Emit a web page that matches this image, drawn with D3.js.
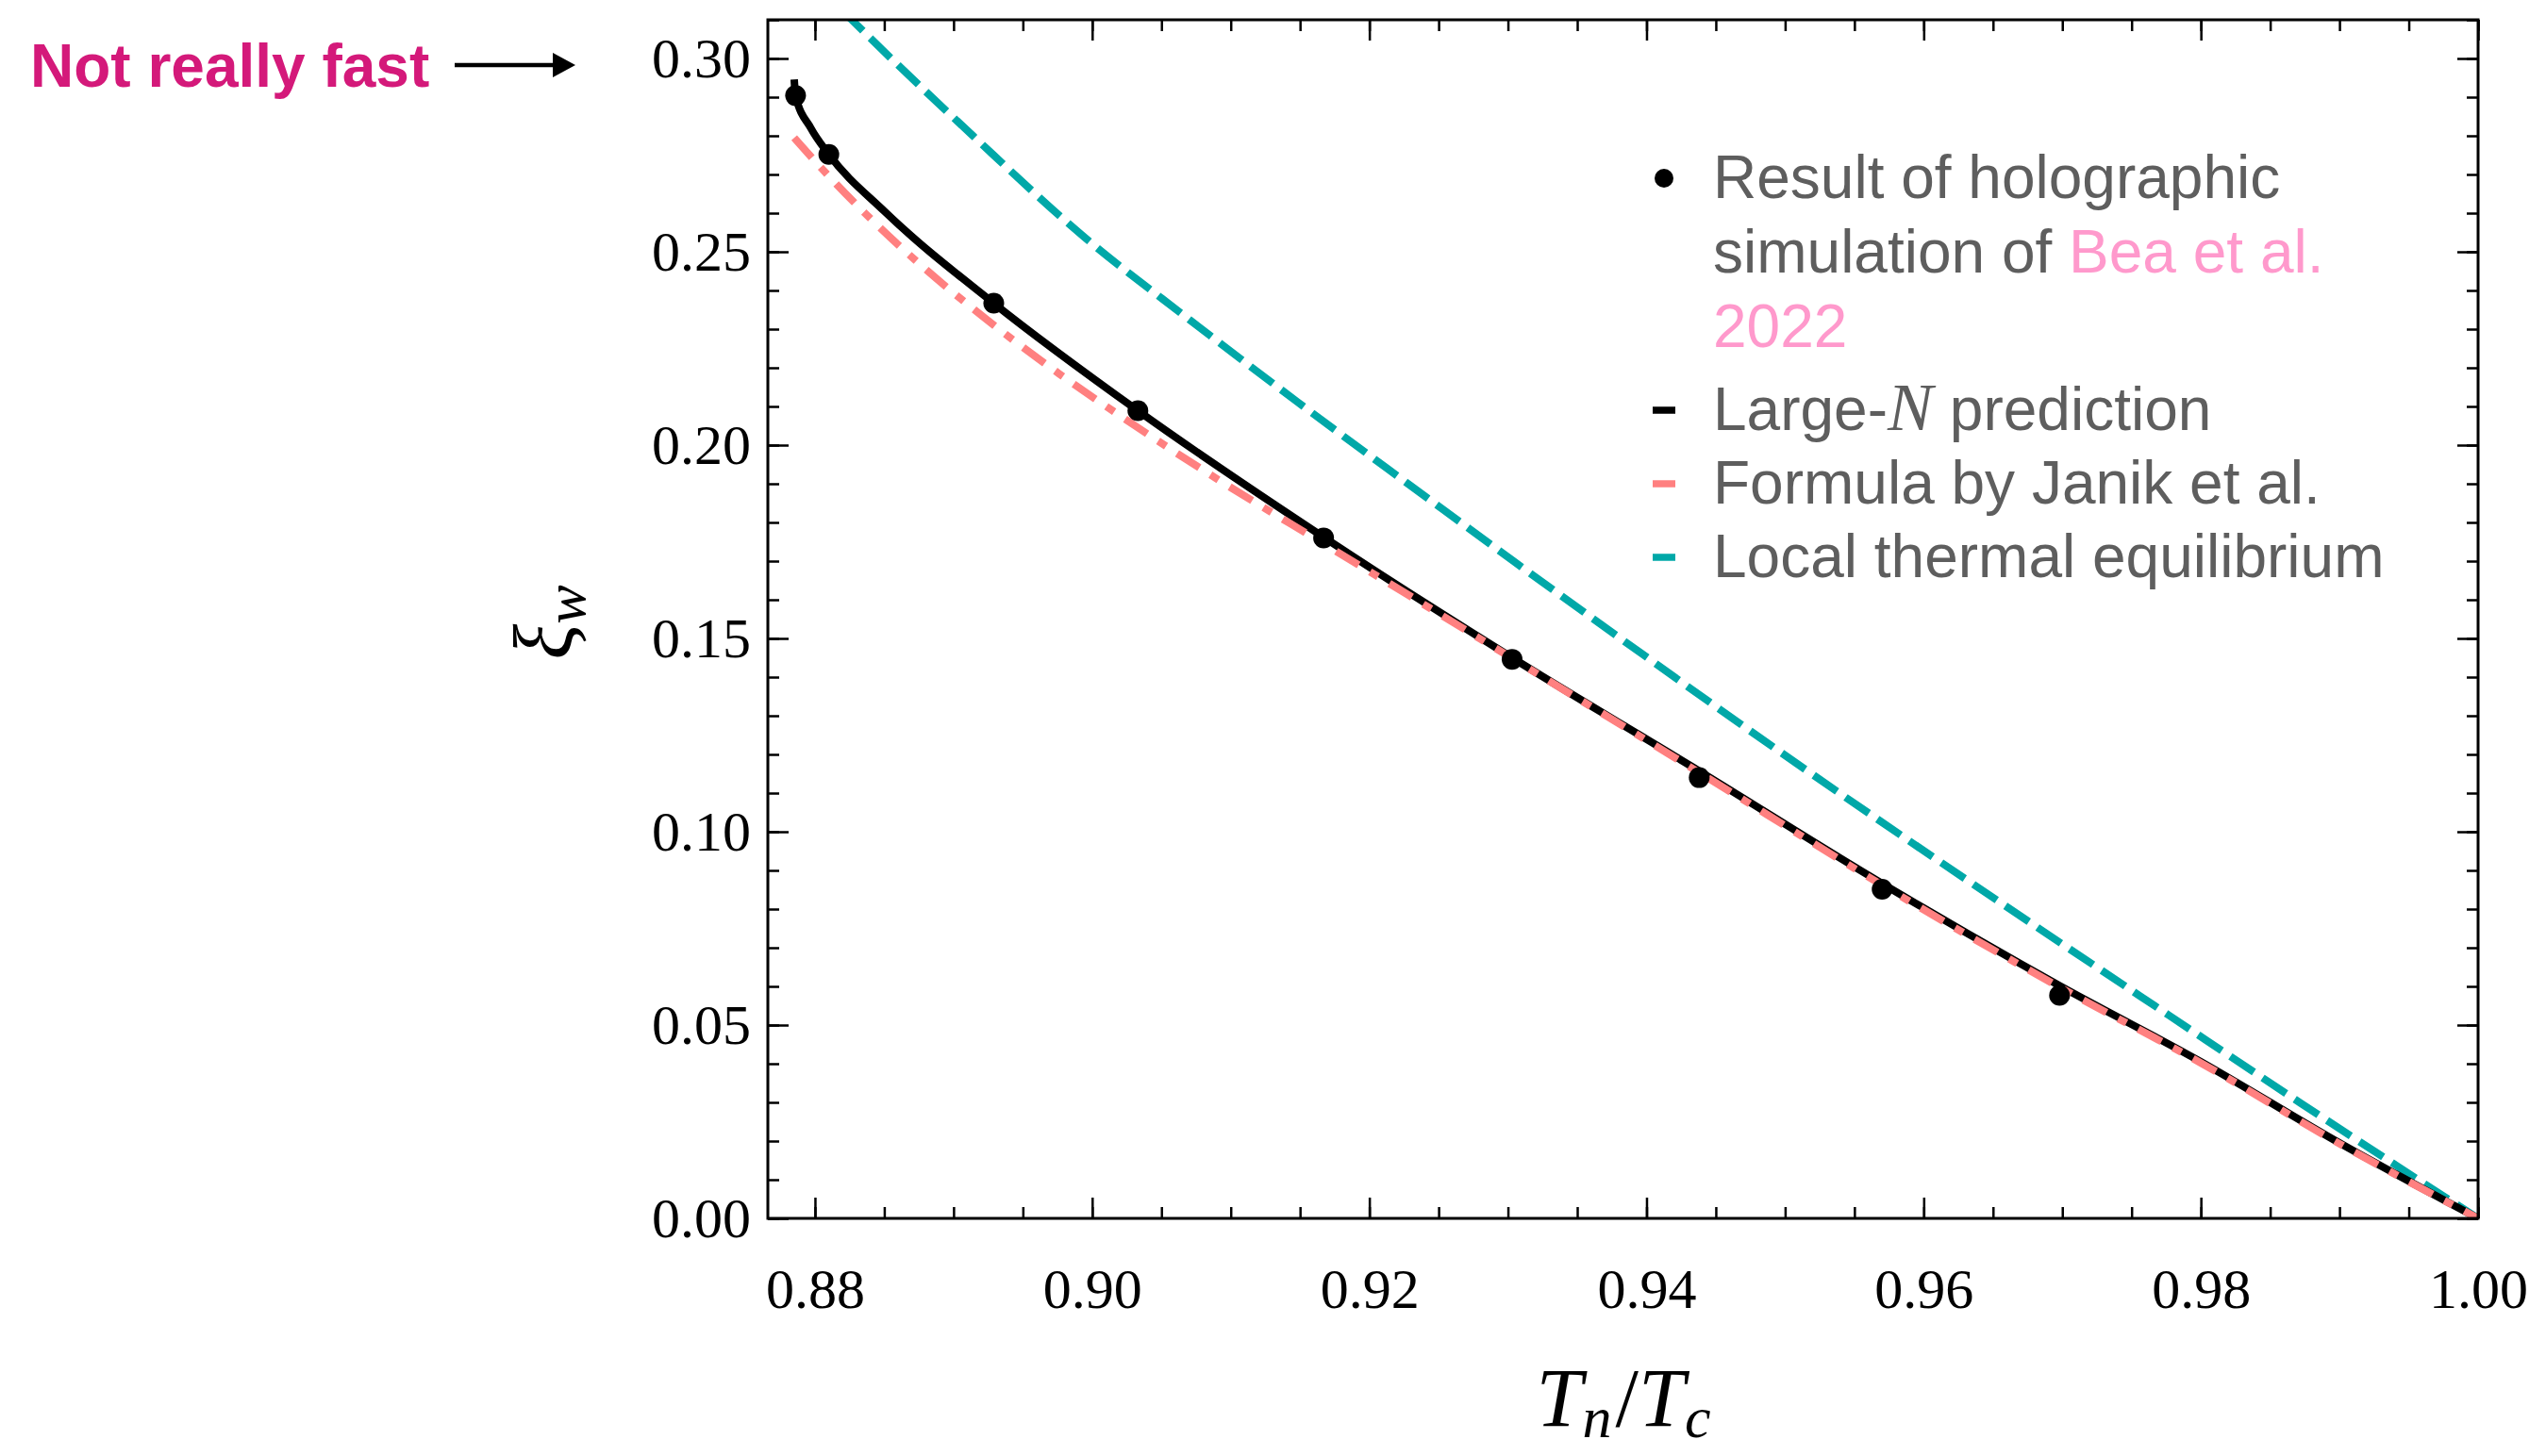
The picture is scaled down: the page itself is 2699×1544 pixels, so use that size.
<!DOCTYPE html>
<html>
<head>
<meta charset="utf-8">
<script src="https://cdn.jsdelivr.net/npm/d3@7"></script>
<style>
  html, body { margin: 0; padding: 0; background: #fff; }
  svg { display: block; }
</style>
</head>
<body>
<script>
// holographic simulation points (Bea et al. 2022)
const simT = [0.8786, 0.8810, 0.8929, 0.9033, 0.9167, 0.9303, 0.9438, 0.9570, 0.9698];
const simXi = [0.2904, 0.2752, 0.2367, 0.2089, 0.1760, 0.1446, 0.1140, 0.0851, 0.0577];

// large-N prediction
const largeNT = [0.8785, 0.8786, 0.8797, 0.8810, 0.8850, 0.8929, 0.9033, 0.9167, 0.9303,
                 0.9438, 0.9570, 0.9698, 0.9800, 0.9900, 1.0000];
const largeNXi = [0.2946, 0.2904, 0.2820, 0.2752, 0.2605, 0.2367, 0.2089, 0.1762, 0.1450,
                  0.1157, 0.0866, 0.0602, 0.0405, 0.0195, 0.0000];

// formula by Janik et al.
const janikT = [0.8785, 0.8805, 0.8836, 0.8875, 0.8922, 0.8976, 0.9031, 0.9089, 0.9167, 0.9226,
                0.9300, 0.9438, 0.9570, 0.9698, 0.9800, 0.9900, 1.0000];
const janikXi = [0.2795, 0.2715, 0.2600, 0.2470, 0.2330, 0.2185, 0.2050, 0.1915, 0.1745, 0.1617,
                 0.1455, 0.1153, 0.0862, 0.0598, 0.0402, 0.0193, 0.0000];

// local thermal equilibrium
const lteT = [0.8820, 0.8855, 0.8914, 0.8992, 0.9070, 0.9148, 0.9226, 0.9304, 0.9396, 0.9491,
              0.9586, 0.9681, 0.9777, 0.9872, 1.0000];
const lteXi = [0.3123, 0.3000, 0.2800, 0.2545, 0.2325, 0.2112, 0.1905, 0.1700, 0.1462, 0.1220,
               0.0985, 0.0755, 0.0525, 0.0298, 0.0000];

const xTicks = [0.88, 0.90, 0.92, 0.94, 0.96, 0.98, 1.00];
const yTicks = [0.00, 0.05, 0.10, 0.15, 0.20, 0.25, 0.30];

const width = 2699, height = 1544;
const plotLeft = 814, plotRight = 2627, plotTop = 21, plotBottom = 1292;

const serif = "'Liberation Serif', 'Times New Roman', serif";
const sans = "'Liberation Sans', Arial, Helvetica, sans-serif";

const svg = d3.select("body").append("svg")
    .attr("width", width)
    .attr("height", height);

const x = d3.scaleLinear().domain([0.8766, 1.0]).range([plotLeft, plotRight]);
const y = d3.scaleLinear().domain([0, 0.31]).range([plotBottom, plotTop]);

svg.append("defs").append("clipPath")
    .attr("id", "plotClip")
    .append("rect")
    .attr("x", plotLeft).attr("y", plotTop)
    .attr("width", plotRight - plotLeft).attr("height", plotBottom - plotTop);

// minor ticks
const xMinor = d3.range(0.880, 1.0001, 0.005).filter(v => v >= 0.8766);
const yMinor = d3.range(0, 0.3101, 0.01);

function styleAxis(g) {
    g.select(".domain").remove();
    g.selectAll(".tick line").attr("stroke", "#000").attr("stroke-width", 2.5);
}

// bottom / top
svg.append("g").attr("transform", `translate(0,${plotBottom})`)
    .call(d3.axisBottom(x).tickValues(xMinor).tickSize(-12).tickFormat(""))
    .call(styleAxis);
svg.append("g").attr("transform", `translate(0,${plotBottom})`)
    .call(d3.axisBottom(x).tickValues(xTicks).tickSize(-22).tickPadding(52).tickFormat(d3.format(".2f")))
    .call(styleAxis)
    .selectAll("text")
    .attr("font-family", serif).attr("font-size", 60).attr("fill", "#000");
svg.append("g").attr("transform", `translate(0,${plotTop})`)
    .call(d3.axisTop(x).tickValues(xMinor).tickSize(-12).tickFormat(""))
    .call(styleAxis);
svg.append("g").attr("transform", `translate(0,${plotTop})`)
    .call(d3.axisTop(x).tickValues(xTicks).tickSize(-22).tickFormat(""))
    .call(styleAxis);

// left / right
svg.append("g").attr("transform", `translate(${plotLeft},0)`)
    .call(d3.axisLeft(y).tickValues(yMinor).tickSize(-12).tickFormat(""))
    .call(styleAxis);
svg.append("g").attr("transform", `translate(${plotLeft},0)`)
    .call(d3.axisLeft(y).tickValues(yTicks).tickSize(-22).tickPadding(18).tickFormat(d3.format(".2f")))
    .call(styleAxis)
    .selectAll("text")
    .attr("font-family", serif).attr("font-size", 60).attr("fill", "#000");
svg.append("g").attr("transform", `translate(${plotRight},0)`)
    .call(d3.axisRight(y).tickValues(yMinor).tickSize(-12).tickFormat(""))
    .call(styleAxis);
svg.append("g").attr("transform", `translate(${plotRight},0)`)
    .call(d3.axisRight(y).tickValues(yTicks).tickSize(-22).tickFormat(""))
    .call(styleAxis);

// curves
const plot = svg.append("g").attr("clip-path", "url(#plotClip)");
const line = d3.line()
    .x(d => x(d[0]))
    .y(d => y(d[1]))
    .curve(d3.curveMonotoneX);

plot.append("path")
    .datum(d3.zip(lteT, lteXi))
    .attr("d", line)
    .attr("fill", "none")
    .attr("stroke", "#00a8a8")
    .attr("stroke-width", 8)
    .attr("stroke-dasharray", "30,11");

plot.append("path")
    .datum(d3.zip(largeNT, largeNXi))
    .attr("d", line)
    .attr("fill", "none")
    .attr("stroke", "#000")
    .attr("stroke-width", 8);

plot.append("path")
    .datum(d3.zip(janikT, janikXi))
    .attr("d", line)
    .attr("fill", "none")
    .attr("stroke", "#ff8080")
    .attr("stroke-width", 8)
    .attr("stroke-dasharray", "28,14,10,14");

plot.selectAll(".sim")
    .data(d3.zip(simT, simXi))
    .enter().append("circle")
    .attr("class", "sim")
    .attr("cx", d => x(d[0]))
    .attr("cy", d => y(d[1]))
    .attr("r", 11)
    .attr("fill", "#000");

// frame
svg.append("rect")
    .attr("x", plotLeft).attr("y", plotTop)
    .attr("width", plotRight - plotLeft).attr("height", plotBottom - plotTop)
    .attr("fill", "none")
    .attr("stroke", "#000")
    .attr("stroke-width", 3);

// axis labels
const xLabel = svg.append("text")
    .attr("x", 1721).attr("y", 1512)
    .attr("text-anchor", "middle")
    .attr("font-family", serif)
    .attr("font-size", 88)
    .attr("fill", "#000");
xLabel.append("tspan").attr("font-style", "italic").text("T");
xLabel.append("tspan").attr("font-style", "italic").attr("font-size", 62).attr("dy", 12).text("n");
xLabel.append("tspan").attr("dy", -12).attr("dx", 4).text("/");
xLabel.append("tspan").attr("font-style", "italic").text("T");
xLabel.append("tspan").attr("font-style", "italic").attr("font-size", 62).attr("dy", 12).text("c");

const yLabel = svg.append("text")
    .attr("transform", "translate(606,660) rotate(-90)")
    .attr("text-anchor", "middle")
    .attr("font-family", serif)
    .attr("font-size", 88)
    .attr("fill", "#000");
yLabel.append("tspan").attr("font-style", "italic").text("ξ");
yLabel.append("tspan").attr("font-style", "italic").attr("font-size", 62).attr("dy", 14).text("w");

// legend
const legend = svg.append("g").attr("font-family", sans).attr("font-size", 64).attr("fill", "#5e5e5e");
const legX = 1816, markX = 1764;

legend.append("circle").attr("cx", markX).attr("cy", 189).attr("r", 10).attr("fill", "#000");
legend.append("text").attr("x", legX).attr("y", 210).text("Result of holographic");
const l2 = legend.append("text").attr("x", legX).attr("y", 289);
l2.append("tspan").text("simulation of ");
l2.append("tspan").attr("fill", "#ff99cc").text("Bea et al.");
legend.append("text").attr("x", legX).attr("y", 368).attr("fill", "#ff99cc").text("2022");

const legendLines = [
    { label: "Large-", y: 456, color: "#000" },
    { label: "Formula by Janik et al.", y: 534, color: "#ff8080" },
    { label: "Local thermal equilibrium", y: 612, color: "#00a8a8" }
];
legendLines.forEach((d, i) => {
    legend.append("line")
        .attr("x1", markX - 12).attr("x2", markX + 12)
        .attr("y1", d.y - 21).attr("y2", d.y - 21)
        .attr("stroke", d.color).attr("stroke-width", 7.5);
    const t = legend.append("text").attr("x", legX).attr("y", d.y);
    t.append("tspan").text(d.label);
    if (i === 0) {
        t.append("tspan").attr("font-family", serif).attr("font-style", "italic").attr("font-size", 72).text("N");
        t.append("tspan").text(" prediction");
    }
});

// annotation
svg.append("text")
    .attr("x", 32).attr("y", 92)
    .attr("font-family", sans)
    .attr("font-weight", "bold")
    .attr("font-size", 64)
    .attr("fill", "#d4197a")
    .text("Not really fast");

svg.append("line")
    .attr("x1", 482).attr("x2", 590)
    .attr("y1", 69).attr("y2", 69)
    .attr("stroke", "#000").attr("stroke-width", 4.5);
svg.append("path")
    .attr("d", "M586,56 L610,69 L586,82 Z")
    .attr("fill", "#000");
</script>
</body>
</html>
